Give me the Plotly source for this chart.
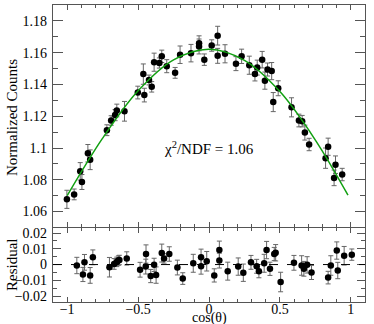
import plotly.graph_objects as go

# Main panel: normalized counts vs cos(theta)
cos_theta = [-1.002, -0.951, -0.908, -0.896, -0.854, -0.838, -0.720, -0.690, -0.662, -0.650,
             -0.596, -0.502, -0.463, -0.456, -0.423, -0.404, -0.387, -0.350, -0.333, -0.298,
             -0.239, -0.204, -0.127, -0.070, -0.070, -0.033, 0.019, 0.061, 0.061, 0.113,
             0.190, 0.230, 0.284, 0.324, 0.340, 0.375, 0.394, 0.413, 0.442, 0.453,
             0.488, 0.582, 0.634, 0.657, 0.676, 0.706, 0.822, 0.840, 0.882, 0.892, 0.939]
counts = [1.0677, 1.0708, 1.0853, 1.0786, 1.0967, 1.0926, 1.1112, 1.1173, 1.1207, 1.1236,
          1.1231, 1.1349, 1.1465, 1.1333, 1.1428, 1.1385, 1.1540, 1.1535, 1.1577, 1.1515,
          1.1473, 1.1587, 1.1597, 1.1659, 1.1639, 1.1556, 1.1645, 1.1707, 1.1580, 1.1593,
          1.1531, 1.1577, 1.1521, 1.1465, 1.1506, 1.1556, 1.1424, 1.1494, 1.1484, 1.1289,
          1.1376, 1.1256, 1.1173, 1.1169, 1.1097, 1.1022, 1.0936, 1.1008, 1.0812, 1.0895, 1.0833]
counts_err = [0.0057, 0.0034, 0.0055, 0.0047, 0.0055, 0.0062, 0.0034, 0.0030, 0.0035, 0.0040,
              0.0062, 0.0040, 0.0064, 0.0043, 0.0031, 0.0033, 0.0057, 0.0032, 0.0039, 0.0041,
              0.0034, 0.0055, 0.0055, 0.0047, 0.0047, 0.0036, 0.0036, 0.0059, 0.0047, 0.0057,
              0.0044, 0.0045, 0.0057, 0.0043, 0.0047, 0.0052, 0.0054, 0.0041, 0.0054, 0.0060,
              0.0047, 0.0060, 0.0040, 0.0036, 0.0047, 0.0039, 0.0064, 0.0054, 0.0049, 0.0055, 0.0039]

# Fit curve
fit_x = [-1.0, -0.75, -0.5, -0.25, 0.0, 0.25, 0.5, 0.75, 0.98]
fit_y = [1.0700, 1.1062, 1.1360, 1.1555, 1.1622, 1.1552, 1.1355, 1.1050, 1.0703]

# Residual panel
res_x = [-0.932, -0.889, -0.878, -0.838, -0.819, -0.702, -0.669, -0.650, -0.639, -0.632,
         -0.580, -0.486, -0.446, -0.444, -0.411, -0.387, -0.373, -0.333, -0.317, -0.280,
         -0.223, -0.185, -0.111, -0.056, -0.056, -0.016, 0.037, 0.073, 0.073, 0.132,
         0.206, 0.242, 0.296, 0.336, 0.352, 0.389, 0.406, 0.430, 0.460, 0.470,
         0.505, 0.599, 0.653, 0.669, 0.692, 0.723, 0.840, 0.859, 0.901, 0.908, 0.953, 1.007]
res_y = [-0.0006, -0.0063, 0.0014, -0.0069, 0.0046, -0.0017, 0.0004, 0.0017, 0.0025, 0.0029,
         0.0039, -0.0033, -0.0013, 0.0067, -0.0073, -0.0002, -0.0067, 0.0073, 0.0039, 0.0067,
         -0.0019, -0.0089, 0.0008, 0.0046, -0.0011, 0.0021, -0.0069, 0.0092, 0.0025, -0.0042,
         -0.0013, -0.0052, 0.0014, -0.0011, -0.0042, 0.0008, 0.0092, -0.0027, 0.0067, 0.0075,
         -0.0111, 0.0011, -0.0006, -0.0027, -0.0002, -0.0050, -0.0083, -0.0006, 0.0089, -0.0038,
         0.0056, 0.0063]
res_err = [0.0052, 0.0045, 0.0050, 0.0050, 0.0047, 0.0062, 0.0034, 0.0030, 0.0030, 0.0030,
           0.0042, 0.0047, 0.0047, 0.0058, 0.0042, 0.0042, 0.0052, 0.0057, 0.0030, 0.0046,
           0.0047, 0.0037, 0.0057, 0.0052, 0.0050, 0.0062, 0.0042, 0.0057, 0.0047, 0.0057,
           0.0055, 0.0055, 0.0044, 0.0044, 0.0042, 0.0057, 0.0055, 0.0042, 0.0042, 0.0052,
           0.0062, 0.0047, 0.0062, 0.0047, 0.0052, 0.0045, 0.0040, 0.0062, 0.0055, 0.0052,
           0.0059, 0.0036]

FONT = "Liberation Serif"
AXIS_COLOR = "#555555"

marker = dict(color="black", size=6.5)
errbar = dict(type="data", color="#666666", thickness=1, width=2.5)

fig = go.Figure()
fig.add_trace(go.Scatter(x=cos_theta, y=counts, mode="markers", marker=marker,
                         error_y=dict(array=counts_err, **errbar), xaxis="x", yaxis="y"))
fig.add_trace(go.Scatter(x=fit_x, y=fit_y, mode="lines", line=dict(color="#12a012", width=1.5, shape="spline"),
                         xaxis="x", yaxis="y"))
fig.add_trace(go.Scatter(x=res_x, y=res_y, mode="markers", marker=marker,
                         error_y=dict(array=res_err, **errbar), xaxis="x2", yaxis="y2"))

common_x = dict(range=[-1.1, 1.1], dtick=0.5, tick0=0, ticks="inside", ticklen=5, tickcolor=AXIS_COLOR,
                showline=True, linecolor=AXIS_COLOR, linewidth=1.3, mirror="allticks",
                showgrid=False, zeroline=False,
                minor=dict(dtick=0.1, ticks="inside", ticklen=3, tickcolor=AXIS_COLOR, showgrid=False))

fig.update_layout(
    width=374, height=324,
    margin=dict(l=53, r=9, t=3, b=22),
    paper_bgcolor="white", plot_bgcolor="white",
    showlegend=False,
    font=dict(family=FONT, size=14, color="black"),
    xaxis=dict(anchor="y", showticklabels=False, **common_x),
    xaxis2=dict(anchor="y2", showticklabels=True, tickfont=dict(size=14), ticklabelstandoff=-6, **common_x),
    yaxis=dict(domain=[0.251, 1], anchor="x", range=[1.05, 1.19], dtick=0.02, tick0=1.0,
               ticks="inside", ticklen=10, tickcolor=AXIS_COLOR, showline=True, linecolor=AXIS_COLOR,
               linewidth=1.3, mirror="allticks", showgrid=False, zeroline=False, ticklabelstandoff=2,
               minor=dict(dtick=0.01, ticks="inside", ticklen=5, tickcolor=AXIS_COLOR, showgrid=False)),
    yaxis2=dict(domain=[0, 0.249], anchor="x2", range=[-0.0238, 0.0232], dtick=0.01, tick0=0,
                ticks="inside", ticklen=8, tickcolor=AXIS_COLOR, showline=True, linecolor=AXIS_COLOR,
                linewidth=1.3, mirror="allticks", showgrid=False, zeroline=False, ticklabelstandoff=2,
                minor=dict(dtick=0.005, ticks="inside", ticklen=4, tickcolor=AXIS_COLOR, showgrid=False)),
    shapes=[dict(type="line", xref="x2 domain", yref="y2", x0=0, x1=1, y0=0, y1=0,
                 line=dict(color="black", width=1, dash="dash"))],
    annotations=[
        dict(text="χ<sup>2</sup>/NDF = 1.06", x=0.0, y=1.1, xref="x", yref="y", showarrow=False,
             font=dict(size=15)),
        dict(text="Normalized Counts", textangle=-90, x=-0.131, y=0.62, xref="paper", yref="paper",
             xanchor="center", yanchor="middle", showarrow=False, font=dict(size=15)),
        dict(text="Residual", textangle=-90, x=-0.131, y=0.125, xref="paper", yref="paper",
             xanchor="center", yanchor="middle", showarrow=False, font=dict(size=15)),
        dict(text="cos(θ)", x=0.0, y=-0.053, xref="x2", yref="paper", xanchor="center", yanchor="middle",
             showarrow=False, font=dict(size=14)),
    ],
)

# page body has a default margin; drop it so the figure sits at the window's corner
fig.write_html("out.html", config={"displayModeBar": False},
               post_script="document.body.style.margin='0';")
